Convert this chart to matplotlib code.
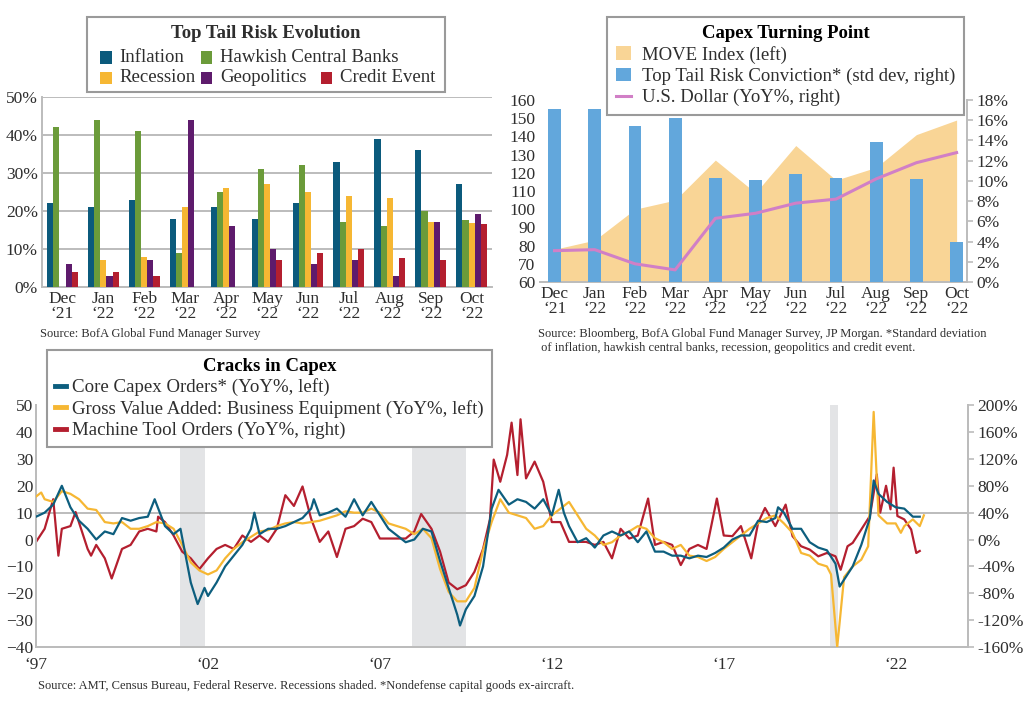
import matplotlib
matplotlib.use("Agg")
import matplotlib.pyplot as plt
from matplotlib.patches import Rectangle
import numpy as np

plt.rcParams['font.family'] = ['Liberation Serif', 'DejaVu Serif']

# ---- top left: Top Tail Risk Evolution ----
months = ["Dec\n\u201821", "Jan\n\u201822", "Feb\n\u201822", "Mar\n\u201822", "Apr\n\u201822", "May\n\u201822",
          "Jun\n\u201822", "Jul\n\u201822", "Aug\n\u201822", "Sep\n\u201822", "Oct\n\u201822"]
inflation = [22, 21, 23, 18, 21, 18, 22, 33, 39, 36, 27]
hawkish = [42, 44, 41, 9, 25, 31, 32, 17, 16, 20, 17.7]
recession = [0, 7, 8, 21, 26, 27, 25, 24, 23.5, 17, 16.8]
geopolitics = [6, 3, 7, 44, 16, 10, 6, 7, 3, 17, 19.3]
credit = [4, 4, 3, 0, 0, 7, 9, 10, 7.5, 7, 16.5]

# ---- top right: Capex Turning Point ----
move_index = [78, 83, 100, 105, 127, 109, 135, 116, 123, 141, 149]
tail_conviction = [17.1, 17.1, 15.4, 16.2, 10.3, 10.1, 10.7, 10.3, 13.8, 10.2, 4.0]
usd_yoy = [3.1, 3.2, 1.8, 1.2, 6.3, 6.8, 7.8, 8.2, 10.2, 11.8, 12.8]

# ---- bottom: Cracks in Capex ----
capex_dates = [1997.0, 1997.25, 1997.5, 1997.75, 1998.0, 1998.25, 1998.5, 1998.75, 1999.0, 1999.25,
               1999.5, 1999.75, 2000.0, 2000.25, 2000.45, 2000.75, 2001.0, 2001.2, 2001.5, 2001.7,
               2001.9, 2002.0, 2002.25, 2002.5, 2002.75, 2003.0, 2003.25, 2003.35, 2003.5, 2003.75,
               2004.0, 2004.25, 2004.5, 2004.75, 2005.0, 2005.08, 2005.25, 2005.5, 2005.75, 2006.0,
               2006.25, 2006.5, 2006.75, 2007.0, 2007.25, 2007.5, 2007.75, 2008.0, 2008.25, 2008.5,
               2008.75, 2009.0, 2009.25, 2009.33, 2009.5, 2009.75, 2010.0, 2010.25, 2010.45, 2010.75,
               2011.0, 2011.25, 2011.5, 2011.75, 2012.0, 2012.2, 2012.35, 2012.5, 2012.75, 2013.0,
               2013.25, 2013.5, 2013.75, 2014.0, 2014.25, 2014.5, 2014.75, 2015.0, 2015.25, 2015.5,
               2015.75, 2016.0, 2016.25, 2016.5, 2016.75, 2017.0, 2017.25, 2017.5, 2017.75, 2018.0,
               2018.25, 2018.5, 2018.58, 2018.75, 2019.0, 2019.25, 2019.5, 2019.75, 2020.0, 2020.25,
               2020.37, 2020.75, 2021.0, 2021.25, 2021.36, 2021.5, 2021.75, 2022.0, 2022.25, 2022.5,
               2022.7]
capex_yoy = [8.5, 10, 13, 20, 12, 7, 4, 0, 3, 2,
             8, 7, 8, 8.5, 15, 5, 2, 4, -16, -24,
             -18, -21, -16, -10, -6, -2, 4, 10, 2, 4,
             4, 5, 6.5, 8, 11.5, 15, 9, 10, 11.5, 8.5,
             15, 9, 14, 9, 4, 1.5, -1, 0, 4, 3,
             -8, -18, -28, -32, -26, -21, -10, 11.5, 18.5, 13,
             15, 14, 11.5, 15, 9, 18.5, 10, 5, -1, 0.5,
             -3, 1.5, 3, 1.5, 3, -1, 3, -4.5, -4.5, -6,
             -6, -7, -6, -6.5, -5, -3, 0, 1.5, 1.5, 7,
             6.5, 8, 12, 10, 4, 4, -1, -3, -4, -9,
             -17.5, -10, -2, 8, 22, 17, 14, 12, 11.5, 8.5,
             8.5]

gva_dates = [1997.0, 1997.15, 1997.25, 1997.5, 1997.75, 1998.0, 1998.25, 1998.5, 1998.75, 1999.0,
             1999.25, 1999.5, 1999.75, 2000.0, 2000.25, 2000.5, 2000.75, 2001.0, 2001.25, 2001.5,
             2001.75, 2002.0, 2002.25, 2002.5, 2002.75, 2003.0, 2003.25, 2003.5, 2003.75, 2004.0,
             2004.25, 2004.5, 2004.75, 2005.0, 2005.25, 2005.5, 2005.75, 2006.0, 2006.25, 2006.5,
             2006.75, 2007.0, 2007.25, 2007.5, 2007.75, 2008.0, 2008.25, 2008.5, 2008.75, 2009.0,
             2009.25, 2009.5, 2009.75, 2010.0, 2010.25, 2010.5, 2010.75, 2011.0, 2011.25, 2011.5,
             2011.75, 2012.0, 2012.25, 2012.5, 2012.75, 2013.0, 2013.25, 2013.5, 2013.75, 2014.0,
             2014.25, 2014.5, 2014.75, 2015.0, 2015.25, 2015.5, 2015.75, 2016.0, 2016.25, 2016.5,
             2016.75, 2017.0, 2017.25, 2017.5, 2017.75, 2018.0, 2018.25, 2018.5, 2018.75, 2019.0,
             2019.25, 2019.5, 2019.75, 2020.0, 2020.12, 2020.3, 2020.5, 2020.75, 2021.0, 2021.2,
             2021.36, 2021.5, 2021.75, 2022.0, 2022.15, 2022.25, 2022.5, 2022.7, 2022.82]
gva_yoy = [16, 17.5, 15, 14, 18, 17, 15, 11.5, 11, 6.5,
           6, 6.5, 4, 4, 5, 6.5, 6, 4, -2, -8.5,
           -11.5, -13, -11.5, -7, -3.5, -1, 1, 3, 3.5, 5,
           6, 6.5, 6, 6.5, 7, 8, 9, 10.5, 10, 10,
           11.5, 10, 6, 5, 4, 2, 4, 0.5, -11, -19.5,
           -23, -23, -18, -4, 6.5, 15, 10, 9, 8, 4,
           5, 9, 11.5, 14, 9, 4, 1.5, -2, -1, 1.5,
           3, 5, 4, 0.5, -1, -3.5, -2, -6, -6.5, -8,
           -6.5, -3.5, -1, 1.5, 4, 6, 8, 9, 6, 2.5,
           -5, -6, -9, -10, -13, -40, -14, -10, -7.5, -2.5,
           47.5, 9, 6, 6, 2.5, 5, 7.5, 5, 9]

tool_dates = [1997.0, 1997.25, 1997.5, 1997.65, 1997.75, 1998.0, 1998.15, 1998.5, 1998.6, 1998.75,
              1999.0, 1999.2, 1999.5, 1999.75, 2000.0, 2000.25, 2000.5, 2000.55, 2000.75, 2001.0,
              2001.25, 2001.5, 2001.75, 2002.0, 2002.25, 2002.5, 2002.75, 2003.0, 2003.25, 2003.5,
              2003.75, 2004.0, 2004.25, 2004.5, 2004.75, 2005.0, 2005.25, 2005.5, 2005.75, 2006.0,
              2006.25, 2006.5, 2006.75, 2007.0, 2007.25, 2007.5, 2007.75, 2008.0, 2008.2, 2008.5,
              2008.75, 2009.0, 2009.25, 2009.5, 2009.75, 2010.0, 2010.2, 2010.31, 2010.5, 2010.7,
              2010.83, 2011.0, 2011.09, 2011.25, 2011.5, 2011.75, 2012.0, 2012.25, 2012.5, 2012.75,
              2013.0, 2013.25, 2013.5, 2013.75, 2014.0, 2014.25, 2014.5, 2014.8, 2015.0, 2015.25,
              2015.5, 2015.75, 2016.0, 2016.25, 2016.5, 2016.8, 2017.0, 2017.25, 2017.5, 2017.8,
              2018.0, 2018.2, 2018.5, 2018.8, 2019.0, 2019.25, 2019.5, 2019.75, 2020.0, 2020.25,
              2020.4, 2020.6, 2020.75, 2021.0, 2021.25, 2021.45, 2021.55, 2021.72, 2021.85, 2021.94,
              2022.05, 2022.25, 2022.45, 2022.6, 2022.7]
tool_yoy = [-3.5, 16, 60, -24, 16, 20, 41, -14, -24, -8,
            -28, -58, -14, -8, 12, 16, 12, 34, 26, 6,
            -18, -28, -44, -28, -14, -8, -14, 6, -3.5, 6,
            -3.5, 16, 66, 50, 79, 31, -3.5, 12, -26, 16,
            20, 31, 26, 1.5, 1.5, 1.5, 1.5, 12, 38, 16,
            -18, -64, -74, -68, -48, -14, 30, 119, 86, 126,
            174, 96, 179, 91, 116, 86, 26, 26, -3.5, -3.5,
            -3.5, -8, -3.5, -28, 16, 1.5, 6, 61, -8, -3.5,
            -8, -38, -14, -8, -14, 61, 6, 5, 20, -28,
            25, 47, 20, 52, 5, -10, -15, -25, -20, -25,
            -45, -10, -5, 15, 35, 97, 40, 80, 45, 107,
            35, 30, 15, -20, -17]

recessions = [(2001.2, 2001.9), (2007.92, 2009.5), (2020.08, 2020.33)]
year_ticks = [1997, 2002, 2007, 2012, 2017, 2022]
year_labels = ["\u201897", "\u201802", "\u201807", "\u201812", "\u201817", "\u201822"]

c_infl = "#0b5a7c"
c_hawk = "#6b9b3a"
c_rec = "#f6b733"
c_geo = "#5e1b6c"
c_cred = "#b41f2f"
grid_c = "#bcbcbc"
txt_c = "#2e2e2e"
tick_fs = 12.5
leg_fs = 13.5
title_fs = 13.5
src_fs = 9

fig = plt.figure(figsize=(10.24, 7.01), dpi=100)

# ================= top left =================
ax1 = fig.add_axes([0.041, 0.5906, 0.4395, 0.271])
x = np.arange(len(months))
w = 0.15
series = [(inflation, c_infl), (hawkish, c_hawk), (recession, c_rec), (geopolitics, c_geo), (credit, c_cred)]
for i, (vals, col) in enumerate(series):
    ax1.bar(x + (i - 2) * w, vals, w, color=col, zorder=3)
ax1.set_xlim(-0.5, len(months) - 0.5)
ax1.set_ylim(0, 50)
ax1.set_yticks(range(0, 51, 10))
ax1.set_yticklabels([f"{v}%" for v in range(0, 51, 10)])
ax1.set_xticks(x)
ax1.set_xticklabels(months, linespacing=0.9)
ax1.grid(axis='y', color=grid_c, linewidth=1.4, zorder=0)
for s in ['top', 'right']:
    ax1.spines[s].set_visible(False)
for s in ['left', 'bottom']:
    ax1.spines[s].set_color(grid_c)
    ax1.spines[s].set_linewidth(1.4)
ax1.tick_params(length=0, labelsize=tick_fs, colors=txt_c, pad=3)

# manual legend box for the top-left panel
fig.add_artist(Rectangle((0.085, 0.8688), 0.3496, 0.107, transform=fig.transFigure,
                         facecolor='white', edgecolor='#9a9a9a', linewidth=1.5))
fig.text(0.26, 0.952, "Top Tail Risk Evolution", ha='center', va='center',
         fontsize=title_fs, fontweight='bold', color=txt_c)
leg_items = [("Inflation", c_infl, 0.098, 0.918), ("Hawkish Central Banks", c_hawk, 0.196, 0.918),
             ("Recession", c_rec, 0.098, 0.889), ("Geopolitics", c_geo, 0.196, 0.889),
             ("Credit Event", c_cred, 0.313, 0.889)]
for lab, col, lx, ly in leg_items:
    fig.add_artist(Rectangle((lx, ly - 0.009), 0.0115, 0.018, transform=fig.transFigure,
                             facecolor=col, edgecolor='none'))
    fig.text(lx + 0.019, ly, lab, ha='left', va='center', fontsize=leg_fs, color=txt_c)

fig.text(0.039, 0.519, "Source: BofA Global Fund Manager Survey", fontsize=src_fs, color=txt_c)

# ================= top right =================
ax2 = fig.add_axes([0.527, 0.5977, 0.417, 0.2596])
ax2b = ax2.twinx()
xr = np.arange(len(months))
ax2.fill_between(xr, 60, move_index, color="#f9d596", linewidth=0, label="MOVE Index (left)")
ax2b.bar(xr, tail_conviction, 0.32, color="#62a7dc", label="Top Tail Risk Conviction* (std dev, right)")
ax2b.plot(xr, usd_yoy, color="#d17fc6", linewidth=2.2, label="U.S. Dollar (YoY%, right)")
ax2.set_xlim(-0.37, 10.25)
ax2.set_ylim(60, 160)
ax2b.set_ylim(0, 18)
ax2.set_yticks(range(60, 161, 10))
ax2b.set_yticks(range(0, 19, 2))
ax2b.set_yticklabels([f"{v}%" for v in range(0, 19, 2)])
ax2.set_xticks(xr)
ax2.set_xticklabels(months, linespacing=0.9)
for a in (ax2, ax2b):
    for s in ['top', 'left']:
        a.spines[s].set_visible(False)
    for s in ['right', 'bottom']:
        a.spines[s].set_color(grid_c)
        a.spines[s].set_linewidth(1.4)
ax2b.spines['bottom'].set_visible(False)
ax2.spines['right'].set_visible(False)
ax2.tick_params(length=0, labelsize=tick_fs, colors=txt_c, pad=3)
ax2b.tick_params(axis='y', length=4, width=1.2, color=grid_c, labelsize=tick_fs, labelcolor=txt_c, pad=3)

h1, l1 = ax2.get_legend_handles_labels()
h2, l2 = ax2b.get_legend_handles_labels()
leg2 = fig.legend(h1 + h2[::-1], l1 + l2[::-1], loc='upper left', bbox_to_anchor=(0.593, 0.976),
                  bbox_transform=fig.transFigure, borderaxespad=0, title="Capex Turning Point",
                  fontsize=leg_fs, title_fontproperties={'weight': 'bold', 'size': title_fs},
                  frameon=True, fancybox=False, edgecolor='#9a9a9a', framealpha=1,
                  handlelength=0.8, handleheight=0.75, handletextpad=0.6, labelspacing=0.2,
                  borderpad=0.45, labelcolor=txt_c)
leg2.get_frame().set_linewidth(1.5)

fig.text(0.525, 0.499, "Source: Bloomberg, BofA Global Fund Manager Survey, JP Morgan. *Standard deviation\n"
         " of inflation, hawkish central banks, recession, geopolitics and credit event.",
         fontsize=src_fs, color=txt_c, linespacing=1.25)

# ================= bottom =================
ax3 = fig.add_axes([0.0352, 0.077, 0.910, 0.345])
ax3b = ax3.twinx()
for r0, r1 in recessions:
    ax3b.axvspan(r0, r1, color="#e3e4e6", linewidth=0, zorder=0)
ax3b.axhline(40, color=grid_c, linewidth=1.4, zorder=1)
ax3b.plot(tool_dates, tool_yoy, color=c_cred, linewidth=1.6, label="Machine Tool Orders (YoY%, right)", zorder=2)
ax3.plot(gva_dates, gva_yoy, color=c_rec, linewidth=1.6,
         label="Gross Value Added: Business Equipment (YoY%, left)", zorder=3)
ax3.plot(capex_dates, capex_yoy, color="#0d5e7e", linewidth=1.6, label="Core Capex Orders* (YoY%, left)", zorder=4)
ax3.set_zorder(ax3b.get_zorder() + 1)
ax3.patch.set_visible(False)
ax3.set_xlim(1997, 2024.1)
ax3.set_ylim(-40, 50)
ax3b.set_ylim(-160, 200)
ax3.set_yticks(range(-40, 51, 10))
ax3b.set_yticks(range(-160, 201, 40))
ax3b.set_yticklabels([f"{v}%" for v in range(-160, 201, 40)])
ax3.set_xticks(year_ticks)
ax3.set_xticklabels(year_labels)
for a in (ax3, ax3b):
    a.spines['top'].set_visible(False)
    for s in ['left', 'right', 'bottom']:
        a.spines[s].set_color(grid_c)
        a.spines[s].set_linewidth(1.4)
ax3.tick_params(axis='y', length=0, labelsize=tick_fs, colors=txt_c, pad=2)
ax3.tick_params(axis='x', length=0, labelsize=tick_fs, colors=txt_c, pad=7)
ax3b.tick_params(axis='y', length=4, width=1.2, color=grid_c, labelsize=tick_fs, labelcolor=txt_c, pad=3)

h3, l3 = ax3.get_legend_handles_labels()
h4, l4 = ax3b.get_legend_handles_labels()
leg3 = fig.legend(h3[::-1] + h4, l3[::-1] + l4, loc='upper left', bbox_to_anchor=(0.046, 0.501),
                  bbox_transform=fig.transFigure, borderaxespad=0, title="Cracks in Capex", fontsize=13.6,
                  title_fontproperties={'weight': 'bold', 'size': title_fs}, frameon=True, fancybox=False,
                  edgecolor='#9a9a9a', framealpha=1, handlelength=0.6, handletextpad=0.3,
                  labelspacing=0.2, borderpad=0.42, labelcolor=txt_c)
leg3.get_frame().set_linewidth(1.5)
for ln in leg3.get_lines():
    ln.set_linewidth(3.5)

fig.text(0.037, 0.017, "Source: AMT, Census Bureau, Federal Reserve. Recessions shaded. *Nondefense capital goods ex-aircraft.",
         fontsize=src_fs, color=txt_c)

fig.savefig("out.png", dpi=100)
